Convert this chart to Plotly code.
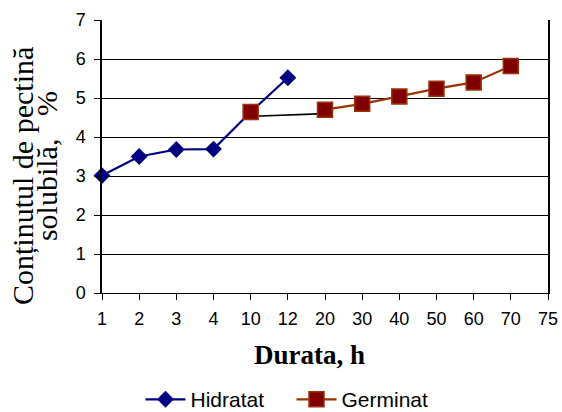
import plotly.graph_objects as go

# Category labels for the duration axis (hours)
durations = ["1", "2", "3", "4", "10", "12", "20", "30", "40", "50", "60", "70", "75"]

# Soluble pectin content, %
hidratat_x = ["1", "2", "3", "4", "10", "12"]
hidratat_y = [3.01, 3.50, 3.68, 3.69, 4.64, 5.52]

germinat_x = ["10", "12", "20", "30", "40", "50", "60", "70"]
germinat_y = [4.64, None, 4.70, 4.85, 5.04, 5.24, 5.40, 5.82]

# Hand-drawn connector between the 10 h and 20 h germinated samples
link_x = ["10", "20"]
link_y = [4.53, 4.60]

y_ticks = [0, 1, 2, 3, 4, 5, 6, 7]

SERIF = "Liberation Serif, Times New Roman, serif"
SANS = "Liberation Sans, Arial, sans-serif"

fig = go.Figure()

fig.add_trace(go.Scatter(
    x=link_x, y=link_y, mode="lines",
    line=dict(color="black", width=1.6),
    showlegend=False, hoverinfo="skip", cliponaxis=False,
))

fig.add_trace(go.Scatter(
    x=hidratat_x, y=hidratat_y, name="Hidratat", mode="lines+markers",
    line=dict(color="#000080", width=2.2),
    marker=dict(symbol="diamond", size=13, color="#000080"),
    cliponaxis=False,
))

fig.add_trace(go.Scatter(
    x=germinat_x, y=germinat_y, name="Germinat", mode="lines+markers",
    line=dict(color="#993300", width=2.2),
    marker=dict(symbol="square", size=15, color="#800000",
                line=dict(color="#993300", width=1.5)),
    connectgaps=False, cliponaxis=False,
))

fig.update_layout(
    width=562, height=412,
    margin=dict(l=102, r=14, t=20, b=119),
    paper_bgcolor="white", plot_bgcolor="white",
    font=dict(family=SANS, size=18, color="black"),
    legend=dict(
        orientation="h", xref="container", yref="container",
        x=0.25, xanchor="left", y=0.03, yanchor="middle",
        font=dict(size=21), entrywidth=96, entrywidthmode="pixels",
        itemwidth=40,
    ),
)

fig.update_xaxes(
    type="category", categoryorder="array", categoryarray=durations,
    tickvals=durations, ticktext=durations,
    range=[0, len(durations) - 1],
    showgrid=False, showline=True, linecolor="black", linewidth=1,
    ticks="outside", ticklen=6, tickcolor="black", ticklabelstandoff=3,
    mirror=False, zeroline=False, automargin=False,
)

fig.update_yaxes(
    range=[0, 7], tickvals=y_ticks,
    showgrid=True, gridcolor="black", gridwidth=1,
    showline=True, linecolor="black", linewidth=1.5, mirror=True,
    ticks="outside", ticklen=6, tickcolor="black", ticklabelstandoff=5,
    zeroline=False, automargin=False,
)

# Axis titles
fig.add_annotation(
    text="<b>Durata, h</b>", xref="paper", yref="paper",
    x=0.466, y=-0.227, xanchor="center", yanchor="middle", showarrow=False,
    font=dict(family=SERIF, size=27),
)
fig.add_annotation(
    text="Conținutul de pectină", xref="paper", yref="paper",
    x=0, y=0.4286, xshift=-79, xanchor="center", yanchor="middle",
    textangle=-90, showarrow=False, font=dict(family=SERIF, size=30),
)
fig.add_annotation(
    text="solubilă,\u00a0\u00a0\u00a0%", xref="paper", yref="paper",
    x=0, y=0.465, xshift=-56, xanchor="center", yanchor="middle",
    textangle=-90, showarrow=False, font=dict(family=SERIF, size=30),
)

fig.write_html("out.html")
